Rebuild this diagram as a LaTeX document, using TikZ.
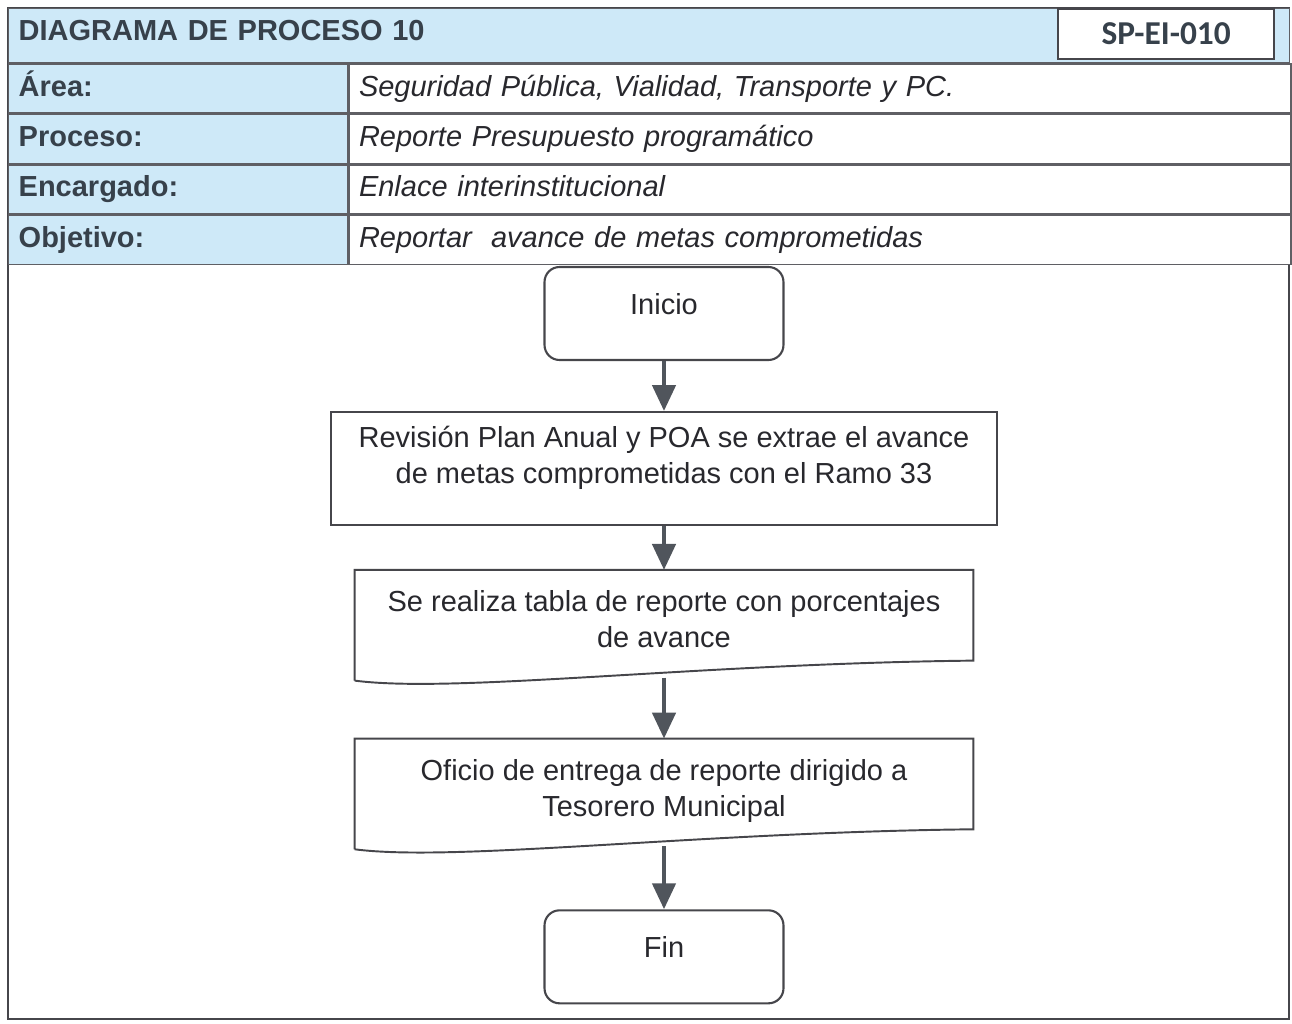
\documentclass[tikz,border=0pt]{standalone}
\usepackage{fontspec}
\setmainfont{Liberation Sans}
\newfontfamily\codefont{Carlito}
\usetikzlibrary{arrows.meta, positioning}
\definecolor{hdrblue}{RGB}{206,233,248}
\definecolor{hdrtext}{RGB}{55,65,75}
\definecolor{bodytext}{RGB}{40,40,45}
\definecolor{linegray}{RGB}{95,95,100}
\definecolor{boxline}{RGB}{70,70,75}
\definecolor{arrowgray}{RGB}{80,85,92}
\newcommand{\flowsize}{\fontsize{16.5}{20.5}\selectfont}
\tikzset{
  cell/.style={
    rectangle,
    draw=linegray,
    line width=0.8pt,
    inner xsep=0.2cm,
    text height=0.42cm,
    text depth=0.12cm,
    align=left
  },
  titlecell/.style={
    cell,
    fill=hdrblue,
    minimum width=25.62cm,
    text width=25.22cm,
    minimum height=1.08cm,
    text depth=0.22cm,
    font=\flowsize\bfseries,
    text=hdrtext
  },
  codecell/.style={
    rectangle,
    draw=boxline,
    line width=1pt,
    fill=white,
    minimum width=4.32cm,
    minimum height=1cm,
    font=\codefont\fontsize{19}{22}\selectfont\bfseries,
    text=hdrtext
  },
  labelcell/.style={
    cell,
    fill=hdrblue,
    minimum width=6.78cm,
    text width=6.38cm,
    minimum height=0.98cm,
    font=\flowsize\bfseries,
    text=hdrtext
  },
  valuecell/.style={
    cell,
    fill=white,
    minimum width=18.84cm,
    text width=18.44cm,
    minimum height=0.98cm,
    font=\flowsize\itshape,
    text=bodytext
  },
  startend/.style={
    rectangle,
    rounded corners=0.3cm,
    draw=boxline,
    line width=1.2pt,
    minimum width=4.78cm,
    minimum height=1.86cm,
    text depth=0.4cm,
    font=\flowsize,
    text=bodytext
  },
  procbox/.style={
    rectangle,
    draw=boxline,
    line width=1.1pt,
    minimum width=13.32cm,
    minimum height=2.26cm,
    align=center,
    text depth=0.55cm,
    font=\flowsize,
    text=bodytext
  },
  docbox/.style={
    rectangle,
    minimum width=12.36cm,
    minimum height=2.3cm,
    align=center,
    text depth=0.35cm,
    font=\flowsize,
    text=bodytext
  },
  docline/.style={draw=boxline, line width=1.1pt},
  arrow/.style={line width=2.6pt, draw=arrowgray, -{Triangle[width=0.46cm,length=0.52cm]}}
}
\begin{document}
\begin{tikzpicture}[x=0.02cm, y=-0.02cm]
    \useasboundingbox (0,0) rectangle (1292,1024);
    % outer frame
    \draw[boxline, line width=1pt] (8,8) rectangle (1289,1019);
    % header table
    \node (titulo) [titlecell, anchor=north west] at (8,8) {DIAGRAMA DE PROCESO 10};
    \node (codigo) [codecell, anchor=north east] at (1275,8) {SP-EI-010};
    \node (area) [labelcell, anchor=north west] at (titulo.south west) {Área:};
    \node (areatxt) [valuecell, right=0pt of area] {Seguridad Pública, Vialidad, Transporte y PC.};
    \node (proceso) [labelcell, below=0pt of area] {Proceso:};
    \node (procesotxt) [valuecell, right=0pt of proceso] {Reporte Presupuesto programático};
    \node (encargado) [labelcell, below=0pt of proceso] {Encargado:};
    \node (encargadotxt) [valuecell, right=0pt of encargado] {Enlace interinstitucional};
    \node (objetivo) [labelcell, below=0pt of encargado] {Objetivo:};
    \node (objetivotxt) [valuecell, right=0pt of objetivo] {Reportar~ avance de metas comprometidas};
    % flow
    \node (ini) [startend] at (664,313.5) {Inicio};
    \node (revision) [procbox, below=1cm of ini] {Revisión Plan Anual y POA se extrae el avance\\de metas comprometidas con el Ramo 33};
    \node (tabla) [docbox, below=0.88cm of revision] {Se realiza tabla de reporte con porcentajes\\de avance};
    \node (oficio) [docbox, below=1.06cm of tabla] {Oficio de entrega de reporte dirigido a\\Tesorero Municipal};
    \node (fin) [startend, below=1.1cm of oficio] {Fin};
    % document outlines
    \draw[docline] ([yshift=0.1cm]tabla.south west) -- (tabla.north west) -- (tabla.north east) -- ([yshift=0.5cm]tabla.south east)
      .. controls ([xshift=6.8cm,yshift=0.44cm]tabla.south west) and ([xshift=2cm,yshift=-0.16cm]tabla.south west) .. ([yshift=0.1cm]tabla.south west);
    \draw[docline] ([yshift=0.1cm]oficio.south west) -- (oficio.north west) -- (oficio.north east) -- ([yshift=0.5cm]oficio.south east)
      .. controls ([xshift=6.8cm,yshift=0.44cm]oficio.south west) and ([xshift=2cm,yshift=-0.16cm]oficio.south west) .. ([yshift=0.1cm]oficio.south west);
    % arrows
    \draw[arrow] (ini.south) -- (ini.south |- revision.north);
    \draw[arrow] (revision.south) -- (revision.south |- tabla.north);
    \draw[arrow] ([yshift=0.16cm]tabla.south) -- (oficio.north);
    \draw[arrow] ([yshift=0.16cm]oficio.south) -- (fin.north);
\end{tikzpicture}
\end{document}
